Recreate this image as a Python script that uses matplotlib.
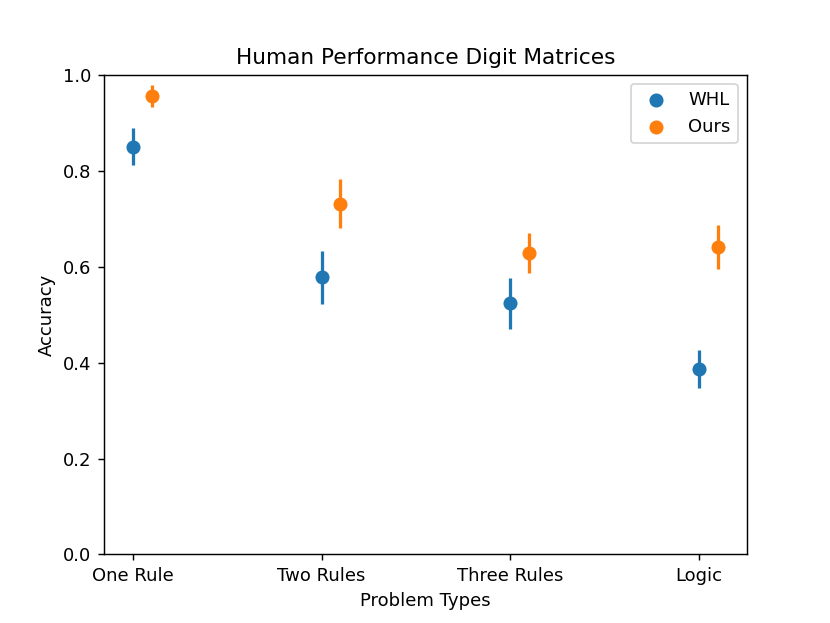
import matplotlib
matplotlib.use("Agg")
import matplotlib.pyplot as plt
import numpy as np

categories = ["One Rule", "Two Rules", "Three Rules", "Logic"]
whl_mean = [0.849, 0.578, 0.525, 0.387]
whl_low = [0.811, 0.523, 0.470, 0.347]
whl_high = [0.888, 0.633, 0.577, 0.426]
ours_mean = [0.956, 0.731, 0.628, 0.640]
ours_low = [0.933, 0.681, 0.586, 0.596]
ours_high = [0.979, 0.782, 0.671, 0.686]

fig, ax = plt.subplots(figsize=(830 / 130, 623 / 130), dpi=130)
x = np.arange(len(categories))
offset = 0.1

for xs, m, lo, hi, col, lab in [
    (x, whl_mean, whl_low, whl_high, "#1f77b4", "WHL"),
    (x + offset, ours_mean, ours_low, ours_high, "#ff7f0e", "Ours"),
]:
    m = np.array(m)
    err = np.vstack([m - np.array(lo), np.array(hi) - m])
    ax.errorbar(xs, m, yerr=err, fmt="none", ecolor=col, elinewidth=1.8)
    ax.scatter(xs, m, s=46, color=col, label=lab, zorder=3)

ax.set_xticks(x)
ax.set_xticklabels(categories)
ax.set_ylim(0, 1.0)
ax.set_xlabel("Problem Types")
ax.set_ylabel("Accuracy")
ax.set_title("Human Performance Digit Matrices")
ax.legend(loc="upper right")
fig.savefig("out.png", dpi=130)
